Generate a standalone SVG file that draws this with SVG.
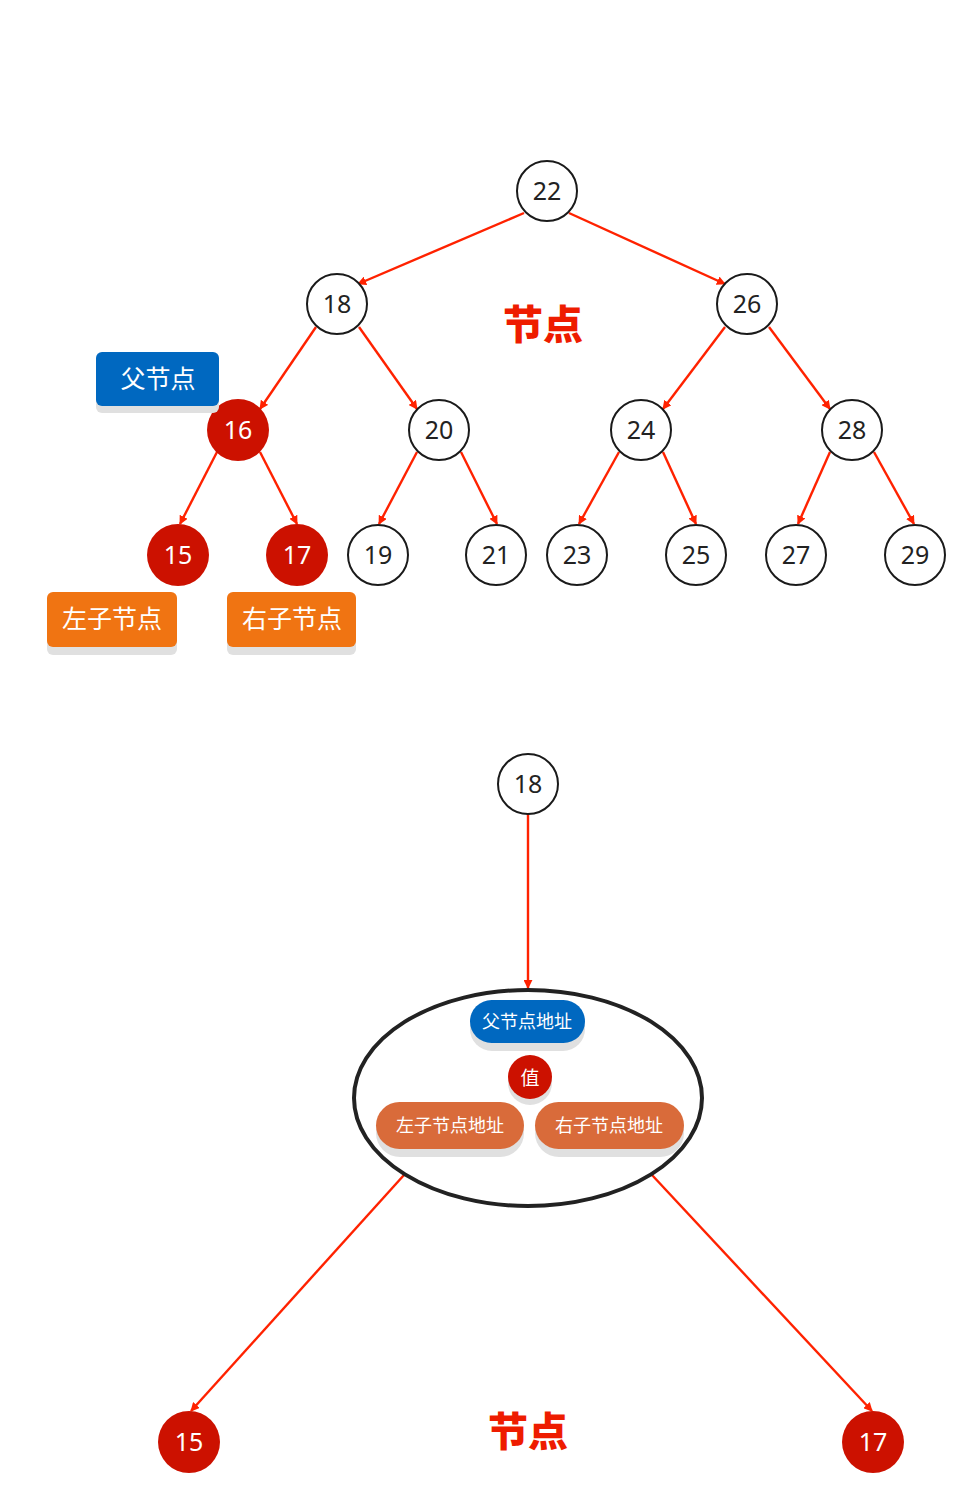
<svg xmlns="http://www.w3.org/2000/svg" width="979" height="1499" viewBox="0 0 979 1499">
<defs>
<marker id="ah" viewBox="0 0 10 10" refX="9" refY="5" markerWidth="9" markerHeight="9" markerUnits="userSpaceOnUse" orient="auto">
<path d="M0,0 L10,5 L0,10 z" fill="#ff2200"/>
</marker>
</defs>
<style>
.edge{stroke:#ff2200;stroke-width:2.4;fill:none;marker-end:url(#ah)}
.nw{fill:#fff;stroke:#1a1a1a;stroke-width:2}
.nr{fill:#cc1100;stroke:none}
.num{font-family:"Noto Sans","Open Sans",sans-serif;font-size:25px;text-anchor:middle;dominant-baseline:central}
.dk{fill:#222}
.wt{fill:#fff}
.cn{font-family:"Noto Sans CJK SC",sans-serif;text-anchor:middle;dominant-baseline:central;fill:#fff}
.title{font-family:"Noto Sans CJK SC",sans-serif;font-weight:900;font-size:40px;text-anchor:middle;dominant-baseline:central;fill:#ee1c00}
.sh{fill:#e0e0e0}
</style>
<rect width="979" height="1499" fill="#fff"/>

<g id="connectors">
<line class="edge" x1="524" y1="213" x2="358" y2="284"/>
<line class="edge" x1="569" y1="213" x2="725" y2="284"/>
<line class="edge" x1="316" y1="327" x2="260" y2="409"/>
<line class="edge" x1="359" y1="327" x2="417" y2="409"/>
<line class="edge" x1="725" y1="327" x2="663" y2="409"/>
<line class="edge" x1="769" y1="327" x2="830" y2="409"/>
<line class="edge" x1="217" y1="452" x2="180" y2="524"/>
<line class="edge" x1="260" y1="452" x2="297" y2="524"/>
<line class="edge" x1="417" y1="452" x2="379" y2="524"/>
<line class="edge" x1="461" y1="452" x2="497" y2="524"/>
<line class="edge" x1="619" y1="452" x2="579" y2="524"/>
<line class="edge" x1="663" y1="452" x2="696" y2="524"/>
<line class="edge" x1="830" y1="452" x2="798" y2="524"/>
<line class="edge" x1="874" y1="452" x2="914" y2="524"/>
<line class="edge" x1="528" y1="814" x2="528" y2="988"/>
<line class="edge" x1="404" y1="1175" x2="191" y2="1411"/>
<line class="edge" x1="652" y1="1175" x2="872" y2="1411"/>
</g>

<g id="n22"><circle class="nw" cx="547" cy="191" r="30"/><text class="num dk" x="547" y="190">22</text></g>
<g id="n18"><circle class="nw" cx="337" cy="304" r="30"/><text class="num dk" x="337" y="303">18</text></g>
<g id="n26"><circle class="nw" cx="747" cy="304" r="30"/><text class="num dk" x="747" y="303">26</text></g>
<g id="n16"><circle class="nr" cx="238" cy="430" r="31"/><text class="num wt" x="238" y="429">16</text></g>
<g id="n20"><circle class="nw" cx="439" cy="430" r="30"/><text class="num dk" x="439" y="429">20</text></g>
<g id="n24"><circle class="nw" cx="641" cy="430" r="30"/><text class="num dk" x="641" y="429">24</text></g>
<g id="n28"><circle class="nw" cx="852" cy="430" r="30"/><text class="num dk" x="852" y="429">28</text></g>
<g id="n15"><circle class="nr" cx="178" cy="555" r="31"/><text class="num wt" x="178" y="554">15</text></g>
<g id="n17"><circle class="nr" cx="297" cy="555" r="31"/><text class="num wt" x="297" y="554">17</text></g>
<g id="n19"><circle class="nw" cx="378" cy="555" r="30"/><text class="num dk" x="378" y="554">19</text></g>
<g id="n21"><circle class="nw" cx="496" cy="555" r="30"/><text class="num dk" x="496" y="554">21</text></g>
<g id="n23"><circle class="nw" cx="577" cy="555" r="30"/><text class="num dk" x="577" y="554">23</text></g>
<g id="n25"><circle class="nw" cx="696" cy="555" r="30"/><text class="num dk" x="696" y="554">25</text></g>
<g id="n27"><circle class="nw" cx="796" cy="555" r="30"/><text class="num dk" x="796" y="554">27</text></g>
<g id="n29"><circle class="nw" cx="915" cy="555" r="30"/><text class="num dk" x="915" y="554">29</text></g>

<g id="title1"><text class="title" x="543" y="322">节点</text></g>

<g id="lbl-parent">
<rect class="sh" x="96" y="358" width="123" height="55" rx="6"/>
<rect x="96" y="352" width="123" height="54" rx="6" fill="#0068c0"/>
<text class="cn" x="158" y="377" font-size="25">父节点</text>
</g>
<g id="lbl-left">
<rect class="sh" x="47" y="598" width="130" height="57" rx="6"/>
<rect x="47" y="592" width="130" height="55" rx="6" fill="#f07412"/>
<text class="cn" x="112" y="617" font-size="25">左子节点</text>
</g>
<g id="lbl-right">
<rect class="sh" x="227" y="598" width="129" height="57" rx="6"/>
<rect x="227" y="592" width="129" height="55" rx="6" fill="#f07412"/>
<text class="cn" x="292" y="617" font-size="25">右子节点</text>
</g>

<g id="b18"><circle class="nw" cx="528" cy="784" r="30"/><text class="num dk" x="528" y="783">18</text></g>

<g id="node-struct">
<ellipse cx="528" cy="1098" rx="174" ry="108" fill="#fff" stroke="#222" stroke-width="4"/>
<rect class="sh" x="470" y="1007" width="115" height="44" rx="22"/>
<rect x="470" y="1000" width="115" height="43" rx="21.5" fill="#0068c0"/>
<text class="cn" x="527" y="1020" font-size="18">父节点地址</text>
<circle cx="530" cy="1083" r="22" fill="#e0e0e0"/>
<circle cx="530" cy="1077" r="22" fill="#cc1100"/>
<text class="cn" x="530" y="1076" font-size="19">值</text>
<rect class="sh" x="376" y="1108" width="148" height="49" rx="24"/>
<rect x="376" y="1102" width="148" height="47" rx="23.5" fill="#d96b3a"/>
<text class="cn" x="450" y="1124" font-size="18">左子节点地址</text>
<rect class="sh" x="535" y="1108" width="149" height="49" rx="24"/>
<rect x="535" y="1102" width="149" height="47" rx="23.5" fill="#d96b3a"/>
<text class="cn" x="609" y="1124" font-size="18">右子节点地址</text>
</g>

<g id="b15"><circle class="nr" cx="189" cy="1442" r="31"/><text class="num wt" x="189" y="1441">15</text></g>
<g id="b17"><circle class="nr" cx="873" cy="1442" r="31"/><text class="num wt" x="873" y="1441">17</text></g>

<g id="title2"><text class="title" x="528" y="1429">节点</text></g>
</svg>
